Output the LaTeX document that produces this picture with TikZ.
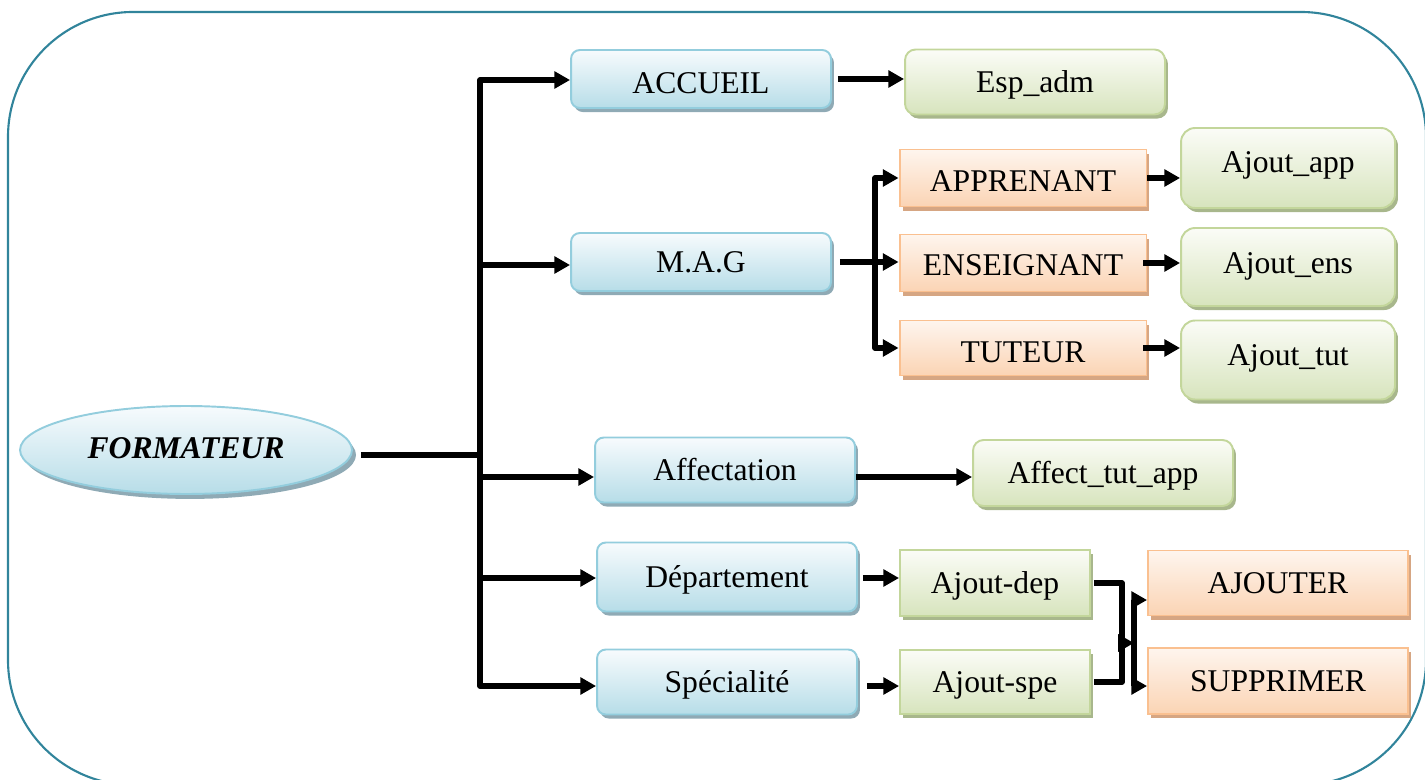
\documentclass[tikz,border=0pt]{standalone}
\usepackage{fontspec}
\setmainfont{Liberation Serif}
\usetikzlibrary{arrows.meta,shapes.geometric,shadows,calc}

\definecolor{framecol}{HTML}{31849B}
\definecolor{blueedge}{HTML}{93CDDD}
\definecolor{bluetop}{HTML}{F7FBFD}
\definecolor{bluebot}{HTML}{B7DDE8}
\definecolor{blueshade}{HTML}{8FAAB5}
\definecolor{greenedge}{HTML}{C3D69B}
\definecolor{greentop}{HTML}{FBFCF7}
\definecolor{greenbot}{HTML}{D7E4BD}
\definecolor{greenshade}{HTML}{A8B78C}
\definecolor{orangeedge}{HTML}{FAC090}
\definecolor{orangetop}{HTML}{FEF5EE}
\definecolor{orangebot}{HTML}{FBD4B4}
\definecolor{orangeshade}{HTML}{D6A683}

\begin{document}
\begin{tikzpicture}[x=0.02cm,y=-0.02cm,
  box/.style={draw, line width=1.1pt, inner sep=0pt,
    font=\fontsize{18}{21}\selectfont, text height=12pt, text depth=0pt},
  bluebox/.style={box, rounded corners=5pt, draw=blueedge,
    top color=bluetop, bottom color=bluebot,
    general shadow={fill=blueshade, shadow xshift=1.7pt, shadow yshift=-2.3pt}},
  greenbox/.style={box, draw=greenedge,
    top color=greentop, bottom color=greenbot,
    general shadow={fill=greenshade, shadow xshift=1.7pt, shadow yshift=-2.3pt}},
  orangebox/.style={box, draw=orangeedge,
    top color=orangetop, bottom color=orangebot,
    general shadow={fill=orangeshade, shadow xshift=1.7pt, shadow yshift=-2.3pt}},
  rootbox/.style={ellipse, draw=blueedge, line width=1.1pt, inner sep=0pt,
    top color=bluetop, bottom color=bluebot,
    font=\fontsize{18}{21}\selectfont\bfseries\itshape,
    general shadow={fill=blueshade, shadow xshift=2.3pt, shadow yshift=-2.8pt}},
  frame/.style={draw=framecol, line width=1.2pt, rounded corners=2.5cm},
  conn/.style={line width=3pt, line join=round},
  arr/.style={conn, -{Triangle[length=9pt,width=9.5pt]}}
]
\useasboundingbox (0,0) rectangle (1425,780);
\draw[frame] (8,12) rectangle (1426,785);

% root
\node[rootbox, minimum width=6.64cm, minimum height=1.76cm, text depth=2pt] (fmt) at (186,450) {FORMATEUR};

% first level
\node[bluebox, minimum width=5.2cm, minimum height=1.16cm, text height=16.5pt] (acc) at (701,79) {ACCUEIL};
\node[bluebox, minimum width=5.2cm, minimum height=1.16cm] (mag) at (701,262) {M.A.G};
\node[bluebox, minimum width=5.2cm, minimum height=1.3cm] (aff) at (725,470) {Affectation};
\node[bluebox, minimum width=5.2cm, minimum height=1.38cm] (dep) at (727,577) {Département};
\node[bluebox, minimum width=5.2cm, minimum height=1.3cm] (spe) at (727,682) {Spécialité};

% second level
\node[greenbox, rounded corners=6pt, minimum width=5.2cm, minimum height=1.3cm] (esp) at (1035,82) {Esp\_adm};
\node[orangebox, minimum width=4.94cm, minimum height=1.14cm, text height=15.4pt] (app) at (1023,178) {APPRENANT};
\node[orangebox, minimum width=4.94cm, minimum height=1.14cm, text height=14.3pt] (ens) at (1023,263) {ENSEIGNANT};
\node[orangebox, minimum width=4.94cm, minimum height=1.1cm, text height=16.5pt] (tut) at (1023,348) {TUTEUR};
\node[greenbox, rounded corners=6pt, minimum width=5.2cm, minimum height=1.32cm] (atta) at (1103,473) {Affect\_tut\_app};
\node[greenbox, minimum width=3.8cm, minimum height=1.32cm] (adep) at (995,583) {Ajout-dep};
\node[greenbox, minimum width=3.8cm, minimum height=1.28cm] (aspe) at (995,682) {Ajout-spe};

% third level
\node[greenbox, rounded corners=8pt, minimum width=4.28cm, minimum height=1.6cm, text depth=6.8pt] (aapp) at (1288,168) {Ajout\_app};
\node[greenbox, rounded corners=8pt, minimum width=4.28cm, minimum height=1.56cm, text depth=4.5pt] (aens) at (1288,267) {Ajout\_ens};
\node[greenbox, rounded corners=8pt, minimum width=4.28cm, minimum height=1.58cm, text depth=5.7pt] (atut) at (1288,360) {Ajout\_tut};
\node[orangebox, minimum width=5.2cm, minimum height=1.3cm] (ajo) at (1278,583) {AJOUTER};
\node[orangebox, minimum width=5.2cm, minimum height=1.32cm] (sup) at (1278,681) {SUPPRIMER};

% trunk from the root
\coordinate (tr) at (480,455);
\coordinate (ttop) at (480,80);
\coordinate (tbot) at (480,686);
\coordinate (b2) at (480,265);
\coordinate (b3) at (480,477);
\coordinate (b4) at (480,578);
\draw[conn] (fmt.east |- tr) ++(8,0) -- (tr);
\draw[arr] (tbot) -- (ttop) -- (ttop -| acc.west);
\draw[arr] (ttop) -- (tbot) -- (tbot -| spe.west);
\draw[arr] (b2) -- (b2 -| mag.west);
\draw[arr] (b3) -- (b3 -| aff.west);
\draw[arr] (b4) -- (b4 -| dep.west);

% M.A.G branch
\coordinate (mj) at (875,262);
\draw[arr] (mag.east) ++(8,0) -- (mag.east -| ens.west);
\draw[arr] (mj) |- (app.west);
\draw[arr] (mj) |- (tut.west);

% right-hand links
\draw[arr] (acc.east) ++(6,0) -- (acc.east -| esp.west);
\draw[arr] (app.east) -- (app.east -| aapp.west);
\draw[arr] (ens.east) ++(-4,0) -- (ens.east -| aens.west);
\draw[arr] (tut.east) ++(-4,0) -- (tut.east -| atut.west);
\draw[arr] (aff.east |- b3) -- (b3 -| atta.west);
\draw[arr] (dep.east |- b4) ++(5,0) -- (b4 -| adep.west);
\draw[arr] (spe.east |- tbot) ++(9,0) -- (tbot -| aspe.west);

% merge towards AJOUTER / SUPPRIMER
\coordinate (j1) at (1122,643);
\coordinate (j2) at (1134,643);
\draw[conn] (adep.east) ++(3,0) -| (j1) |- ($(aspe.east)+(3,0)$);
\draw[arr] (j1) -- (j2);
\draw[arr] (j2) |- ($(ajo.west)+(0,17)$);
\draw[arr] (j2) |- ($(sup.west)+(0,5)$);
\end{tikzpicture}
\end{document}
